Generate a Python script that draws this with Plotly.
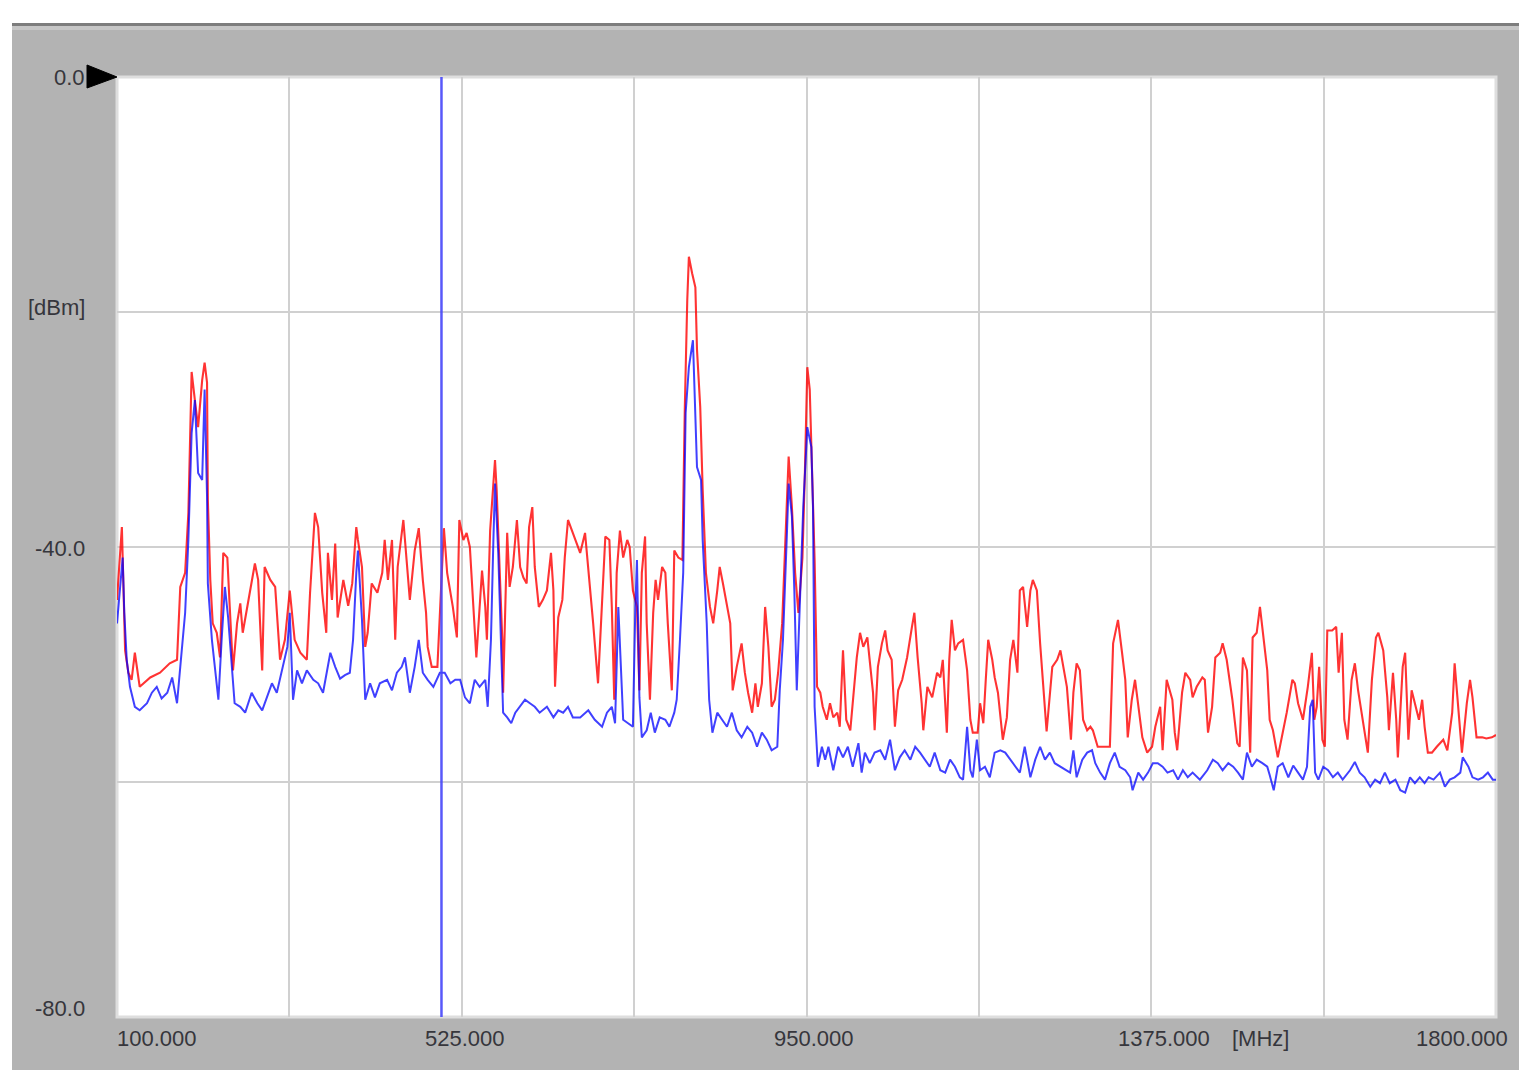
import plotly.graph_objects as go

# ---------------- data ----------------
red_freq = [
    100, 106, 107, 110, 114, 118, 122, 128, 141, 153,
    165, 174, 178, 184, 188, 192, 196, 200, 205, 208,
    211, 212, 215, 218, 223, 227, 231, 236, 239, 243,
    248, 252, 255, 260, 264, 270, 274, 279, 282, 289,
    295, 301, 307, 313, 319, 326, 334, 338, 344, 348,
    353, 358, 360, 365, 369, 372, 379, 385, 390, 395,
    397, 402, 406, 409, 414, 421, 427, 430, 434, 439,
    443, 446, 453, 458, 461, 467, 472, 477, 481, 483,
    488, 495, 497, 501, 503, 507, 511, 514, 519, 522,
    527, 531, 535, 539, 543, 545, 550, 554, 556, 560,
    564, 566, 568, 571, 575, 576, 581, 584, 588, 593,
    597, 601, 605, 608, 612, 615, 620, 625, 630, 635,
    638, 640, 644, 649, 652, 656, 662, 665, 671, 677,
    681, 687, 693, 698, 702, 707, 710, 713, 716, 720,
    724, 729, 732, 736, 741, 744, 747, 751, 753, 757,
    761, 764, 767, 772, 776, 779, 784, 787, 792, 797,
    798, 800, 803, 805, 809, 813, 815, 819, 822, 826,
    831, 835, 840, 843, 847, 852, 856, 859, 864, 870,
    874, 878, 883, 887, 890, 895, 899, 903, 907, 911,
    915, 920, 924, 926, 928, 932, 936, 940, 945, 948,
    951, 954, 958, 960, 963, 967, 970, 975, 979, 983,
    988, 991, 995, 999, 1004, 1007, 1012, 1016, 1020, 1025,
    1028, 1032, 1034, 1038, 1043, 1047, 1050, 1055, 1059, 1063,
    1068, 1074, 1080, 1083, 1087, 1092, 1094, 1099, 1105, 1111,
    1115, 1118, 1123, 1126, 1129, 1133, 1137, 1143, 1148, 1152,
    1155, 1161, 1164, 1168, 1171, 1174, 1179, 1182, 1186, 1192,
    1197, 1201, 1205, 1210, 1213, 1217, 1222, 1226, 1229, 1234,
    1238, 1242, 1246, 1253, 1259, 1263, 1266, 1271, 1276, 1279,
    1283, 1287, 1291, 1296, 1300, 1303, 1309, 1318, 1324, 1328,
    1334, 1339, 1343, 1346, 1351, 1355, 1359, 1364, 1370, 1376,
    1380, 1386, 1389, 1394, 1401, 1404, 1407, 1413, 1417, 1423,
    1426, 1431, 1438, 1441, 1445, 1450, 1454, 1460, 1463, 1468,
    1475, 1481, 1484, 1488, 1493, 1497, 1500, 1505, 1509, 1513,
    1518, 1521, 1525, 1531, 1537, 1542, 1549, 1552, 1556, 1562,
    1568, 1573, 1576, 1579, 1582, 1586, 1589, 1592, 1598, 1603,
    1606, 1610, 1613, 1617, 1622, 1626, 1630, 1636, 1642, 1647,
    1652, 1655, 1661, 1666, 1668, 1673, 1677, 1679, 1685, 1688,
    1692, 1696, 1700, 1705, 1709, 1712, 1716, 1721, 1727, 1735,
    1740, 1746, 1749, 1753, 1758, 1764, 1768, 1771, 1776, 1783,
    1788, 1795, 1800,
]
red_dbm = [
    -44.5, -38.3, -40.9, -48.8, -50.7, -51.3, -49.0, -51.9, -51.1, -50.7,
    -49.9, -49.6, -43.4, -42.2, -37.1, -25.1, -27.5, -29.8, -25.8, -24.3,
    -26.0, -36.0, -42.8, -46.5, -47.3, -49.4, -40.5, -40.9, -45.1, -50.5,
    -46.5, -44.8, -47.3, -45.4, -43.7, -41.4, -42.8, -50.5, -41.7, -42.8,
    -43.4, -49.6, -47.9, -43.7, -47.9, -49.0, -49.6, -43.9, -37.1, -38.3,
    -43.9, -47.3, -40.5, -44.5, -39.7, -46.0, -42.8, -45.0, -43.1, -38.3,
    -39.4, -41.7, -48.5, -47.3, -43.1, -43.9, -42.2, -39.4, -42.8, -39.4,
    -47.9, -41.7, -37.7, -41.7, -44.5, -40.3, -38.4, -42.8, -45.6, -48.5,
    -50.2, -50.2, -47.3, -40.9, -38.4, -42.2, -43.7, -45.1, -47.7, -37.7,
    -39.4, -38.8, -40.0, -44.5, -49.4, -47.3, -42.0, -45.1, -47.9, -38.6,
    -35.1, -32.6, -35.1, -40.0, -47.9, -52.4, -38.8, -43.4, -41.7, -37.7,
    -41.7, -42.6, -43.1, -38.3, -36.6, -41.7, -45.1, -44.5, -43.7, -40.5,
    -43.7, -51.9, -46.0, -44.5, -40.9, -37.7, -38.8, -39.4, -40.5, -38.8,
    -41.7, -46.5, -51.6, -45.1, -39.1, -39.4, -45.1, -53.0, -42.2, -38.6,
    -40.9, -39.4, -40.0, -43.7, -45.1, -52.2, -42.2, -39.1, -46.5, -53.0,
    -45.6, -42.8, -44.5, -41.7, -42.2, -46.5, -52.2, -40.3, -40.9, -41.1,
    -36.6, -28.1, -19.0, -15.3, -16.7, -17.9, -23.2, -28.1, -35.1, -42.2,
    -45.1, -46.5, -43.7, -41.7, -43.1, -45.1, -46.5, -52.2, -50.2, -48.2,
    -50.7, -52.4, -54.1, -51.6, -53.6, -51.6, -45.1, -48.5, -53.6, -53.0,
    -50.7, -46.5, -39.4, -34.9, -32.3, -36.6, -42.2, -45.6, -40.9, -33.7,
    -24.7, -26.6, -36.6, -41.1, -51.9, -52.4, -53.6, -54.7, -53.3, -54.5,
    -54.1, -55.3, -48.8, -54.7, -55.6, -53.0, -49.4, -47.3, -48.5, -47.7,
    -49.6, -52.4, -55.6, -50.2, -48.2, -47.1, -48.8, -49.6, -55.3, -52.2,
    -51.3, -49.4, -46.8, -45.6, -49.4, -53.3, -55.6, -51.9, -52.8, -50.7,
    -51.1, -49.6, -55.8, -49.6, -46.2, -48.8, -48.2, -47.9, -50.5, -54.7,
    -55.8, -55.8, -53.3, -55.0, -51.3, -47.9, -49.6, -51.1, -52.4, -56.4,
    -54.5, -49.6, -47.9, -50.7, -43.7, -43.4, -46.8, -43.7, -42.8, -43.7,
    -48.2, -52.0, -55.7, -50.2, -49.6, -48.8, -49.9, -51.9, -56.4, -52.4,
    -49.9, -50.5, -54.7, -55.6, -55.3, -55.6, -57.0, -57.0, -57.0, -48.2,
    -46.2, -49.0, -51.3, -56.2, -53.0, -51.3, -53.3, -56.2, -57.5, -57.0,
    -55.3, -53.6, -57.3, -51.3, -53.0, -55.8, -57.3, -52.4, -50.7, -51.3,
    -52.8, -51.9, -51.1, -51.3, -55.8, -53.6, -49.4, -49.0, -48.2, -49.6,
    -53.0, -56.7, -57.0, -49.4, -50.5, -57.5, -47.7, -47.3, -45.1, -47.7,
    -50.5, -54.7, -55.6, -57.9, -55.8, -54.1, -51.3, -51.6, -53.3, -54.7,
    -51.9, -49.0, -54.7, -53.6, -50.2, -56.4, -57.0, -47.1, -47.1, -46.8,
    -50.7, -47.3, -54.7, -56.4, -51.3, -49.9, -52.2, -54.7, -57.5, -51.3,
    -47.7, -47.3, -48.8, -52.8, -55.6, -50.7, -54.7, -57.9, -50.2, -49.0,
    -56.4, -52.2, -53.3, -54.7, -53.0, -55.3, -57.5, -57.5, -57.0, -56.4,
    -57.3, -54.1, -49.9, -53.6, -57.5, -53.3, -51.3, -52.8, -56.2, -56.2,
    -56.3, -56.2, -56.0,
]

blue_freq = [
    100, 104, 107, 109, 112, 116, 122, 128, 137, 143,
    149, 155, 162, 168, 174, 178, 184, 188, 192, 196,
    200, 205, 208, 211, 212, 217, 221, 225, 229, 233,
    237, 242, 245, 252, 258, 266, 273, 279, 285, 291,
    297, 303, 310, 313, 317, 322, 328, 334, 342, 348,
    354, 363, 369, 375, 381, 387, 391, 395, 397, 402,
    406, 412, 418, 424, 433, 439, 445, 451, 455, 461,
    467, 472, 477, 483, 490, 498, 504, 511, 517, 523,
    529, 535, 541, 547, 554, 557, 561, 564, 566, 570,
    573, 576, 581, 586, 591, 597, 603, 609, 615, 621,
    630, 638, 644, 650, 656, 662, 671, 681, 689, 698,
    704, 710, 714, 718, 721, 724, 730, 736, 739, 741,
    744, 747, 753, 758, 763, 769, 776, 781, 787, 790,
    794, 798, 801, 805, 810, 813, 815, 820, 822, 827,
    830, 834, 840, 846, 852, 858, 864, 870, 877, 883,
    889, 895, 901, 907, 914, 917, 921, 926, 928, 932,
    935, 938, 942, 946, 951, 956, 958, 960, 964, 969,
    973, 977, 983, 989, 995, 1001, 1007, 1014, 1018, 1022,
    1028, 1034, 1041, 1047, 1053, 1059, 1065, 1071, 1078, 1084,
    1090, 1096, 1102, 1108, 1115, 1121, 1127, 1133, 1139, 1143,
    1148, 1152, 1155, 1160, 1164, 1170, 1176, 1182, 1189, 1195,
    1201, 1207, 1213, 1219, 1226, 1232, 1238, 1244, 1250, 1256,
    1263, 1269, 1275, 1279, 1283, 1290, 1296, 1302, 1306, 1312,
    1318, 1324, 1330, 1336, 1343, 1349, 1352, 1359, 1365, 1371,
    1377, 1383, 1389, 1395, 1402, 1408, 1414, 1420, 1426, 1435,
    1444, 1451, 1457, 1463, 1470, 1476, 1482, 1488, 1493, 1499,
    1505, 1512, 1518, 1521, 1526, 1531, 1537, 1544, 1550, 1556,
    1562, 1567, 1571, 1574, 1577, 1581, 1587, 1593, 1599, 1605,
    1611, 1620, 1626, 1632, 1638, 1645, 1651, 1657, 1663, 1669,
    1676, 1682, 1688, 1694, 1700, 1706, 1712, 1717, 1723, 1731,
    1737, 1743, 1749, 1756, 1759, 1766, 1771, 1778, 1784, 1790,
    1796, 1800,
]
blue_dbm = [
    -46.5, -43.4, -40.9, -45.6, -49.6, -51.9, -53.6, -53.9, -53.3, -52.4,
    -51.9, -52.9, -52.4, -51.1, -53.3, -50.2, -45.6, -39.4, -30.3, -27.5,
    -33.7, -34.3, -26.6, -35.7, -43.1, -47.9, -50.7, -53.0, -47.9, -43.4,
    -46.0, -51.1, -53.3, -53.6, -54.1, -52.4, -53.3, -53.9, -52.8, -51.6,
    -52.4, -50.7, -48.5, -45.6, -53.0, -50.5, -51.6, -50.5, -51.3, -51.6,
    -52.4, -49.0, -50.2, -51.2, -50.9, -50.7, -47.9, -42.2, -40.3, -46.2,
    -53.0, -51.6, -52.8, -51.6, -51.3, -52.2, -50.7, -50.2, -49.4, -52.4,
    -50.2, -47.9, -50.7, -51.3, -51.9, -50.7, -50.7, -51.6, -51.3, -51.3,
    -52.8, -53.3, -51.3, -51.9, -51.3, -53.6, -47.9, -39.4, -34.6, -40.5,
    -48.5, -54.1, -54.5, -55.0, -54.1, -53.6, -53.0, -53.3, -53.6, -54.1,
    -53.6, -54.5, -53.9, -54.1, -53.6, -54.5, -54.5, -53.9, -54.7, -55.3,
    -54.1, -53.6, -55.0, -45.1, -50.2, -54.7, -55.0, -55.3, -45.1, -41.1,
    -52.8, -56.2, -55.6, -54.1, -55.8, -54.5, -54.7, -55.3, -54.1, -53.0,
    -47.9, -42.2, -28.6, -24.7, -22.4, -28.1, -33.2, -34.3, -39.4, -46.5,
    -53.0, -55.8, -54.1, -54.7, -55.3, -54.1, -55.6, -56.2, -55.3, -55.8,
    -57.0, -55.8, -56.4, -57.3, -57.0, -52.2, -47.9, -38.6, -34.6, -37.4,
    -43.7, -52.2, -44.5, -36.6, -29.8, -31.5, -36.6, -53.6, -58.7, -57.0,
    -58.1, -57.0, -59.0, -57.0, -57.9, -57.0, -58.7, -56.7, -59.2, -57.5,
    -58.4, -57.5, -57.3, -58.1, -56.4, -59.0, -57.9, -57.3, -58.1, -57.0,
    -57.5, -58.1, -58.7, -57.5, -59.0, -59.2, -58.1, -58.7, -59.6, -59.8,
    -55.3, -59.0, -59.6, -56.4, -59.0, -58.7, -59.6, -57.5, -57.3, -57.5,
    -58.1, -58.7, -59.2, -57.0, -59.6, -58.1, -57.0, -58.1, -57.5, -58.4,
    -58.7, -59.0, -59.2, -57.3, -59.6, -58.1, -57.5, -57.3, -58.4, -59.2,
    -59.8, -58.4, -57.5, -58.7, -59.0, -59.6, -60.7, -59.2, -59.8, -59.2,
    -58.4, -58.4, -58.7, -59.2, -59.0, -59.8, -59.0, -59.6, -59.2, -59.8,
    -59.0, -58.1, -58.4, -59.0, -58.4, -58.7, -59.2, -59.8, -57.5, -58.7,
    -58.1, -58.4, -58.7, -59.4, -60.7, -58.7, -58.4, -59.6, -58.6, -59.2,
    -59.8, -58.7, -53.6, -53.0, -59.2, -59.8, -58.7, -59.0, -59.6, -59.2,
    -59.8, -59.0, -58.3, -59.2, -59.6, -60.4, -59.8, -60.1, -59.2, -60.1,
    -59.8, -60.7, -60.9, -59.6, -60.1, -59.6, -60.1, -59.6, -59.8, -59.2,
    -60.4, -59.8, -59.6, -59.2, -57.9, -58.7, -59.6, -59.8, -59.6, -59.2,
    -59.8, -59.8,
]

marker_freq = 500.0

x_range = [100, 1800]
y_range = [-80, 0]
x_grid = [312.5, 525, 737.5, 950, 1162.5, 1375, 1587.5]
y_grid = [-20, -40, -60]

x_labels = ["100.000", "525.000", "950.000", "1375.000", "1800.000"]
x_label_pos = [100, 525, 950, 1375, 1800]
y_labels = ["0.0", "[dBm]", "-40.0", "-80.0"]
y_label_pos = [0.0, -19.6, -40.1, -79.3]
x_unit = "[MHz]"
x_unit_pos = 1510

assert len(red_freq) == len(red_dbm), (len(red_freq), len(red_dbm))
assert len(blue_freq) == len(blue_dbm), (len(blue_freq), len(blue_dbm))

# ---------------- figure ----------------
OFF = 8  # page body margin
W, H = 1533 - 2 * OFF, 1086 - 2 * OFF
PL, PR, PT, PB = 117, 1496, 77, 1017  # plot area in page pixels
L, T = PL - OFF, PT - OFF
R = W - (PR - OFF)
B = H - (PB - OFF)
PW, PH = PR - PL, PB - PT


def px(x):
    return (x - PL) / PW


def py(y):
    return (PB - y) / PH


fig = go.Figure()
fig.add_trace(go.Scatter(
    x=red_freq, y=red_dbm, mode="lines",
    line=dict(color="rgba(255,0,0,0.8)", width=2.1),
    showlegend=False, hoverinfo="skip"))
fig.add_trace(go.Scatter(
    x=blue_freq, y=blue_dbm, mode="lines",
    line=dict(color="rgba(0,0,255,0.75)", width=2.0),
    showlegend=False, hoverinfo="skip"))

shapes = [
    dict(type="rect", xref="paper", yref="paper", layer="below",
         x0=px(12), x1=px(1519), y0=py(1070), y1=py(23),
         fillcolor="#b3b3b3", line=dict(width=0)),
    dict(type="rect", xref="paper", yref="paper", layer="below",
         x0=px(12), x1=px(1519), y0=py(26), y1=py(23),
         fillcolor="#7d7d7d", line=dict(width=0)),
    dict(type="rect", xref="paper", yref="paper", layer="below",
         x0=px(12), x1=px(1519), y0=py(30), y1=py(26),
         fillcolor="#c6c6c6", line=dict(width=0)),
    dict(type="rect", xref="paper", yref="paper", layer="below",
         x0=0, x1=1, y0=0, y1=1,
         fillcolor="white", line=dict(color="#dedede", width=3)),
    dict(type="path", xref="paper", yref="paper", layer="above",
         path=f"M {px(87)} {py(65)} L {px(117)} {py(77)} L {px(87)} {py(88)} Z",
         fillcolor="black", line=dict(color="black", width=1)),
    dict(type="line", xref="x", yref="paper", layer="above",
         x0=marker_freq, x1=marker_freq, y0=0, y1=1,
         line=dict(color="rgba(70,70,250,0.9)", width=2.5)),
]

font = dict(family="Liberation Sans, Arial, sans-serif", size=22, color="#36363c")
ann = []
for t, v in zip(y_labels, y_label_pos):
    ann.append(dict(text=t, x=px(87), y=v, xref="paper", yref="y",
                    xanchor="right", yanchor="middle", showarrow=False, font=font))
x_shift = [-2, 3, 7, 13, 14]
x_anchor = ["left", "center", "center", "center", "right"]
for t, v, s, a in zip(x_labels, x_label_pos, x_shift, x_anchor):
    ann.append(dict(text=t, x=v, y=py(1038), xref="x", yref="paper",
                    xanchor=a, yanchor="middle", xshift=s, showarrow=False, font=font))
ann.append(dict(text=x_unit, x=x_unit_pos, y=py(1038), xref="x", yref="paper",
                xanchor="center", yanchor="middle", showarrow=False, font=font))

fig.update_layout(
    width=W, height=H, autosize=False,
    margin=dict(l=L, r=R, t=T, b=B, pad=0),
    paper_bgcolor="white", plot_bgcolor="white",
    shapes=shapes, annotations=ann,
    xaxis=dict(range=x_range, tickvals=x_grid, showticklabels=False, ticks="",
               showgrid=True, gridcolor="#d0d0d0", gridwidth=2,
               zeroline=False, showline=False, fixedrange=True),
    yaxis=dict(range=y_range, tickvals=y_grid, showticklabels=False, ticks="",
               showgrid=True, gridcolor="#d0d0d0", gridwidth=2,
               zeroline=False, showline=False, fixedrange=True),
)

fig.write_html("out.html")
